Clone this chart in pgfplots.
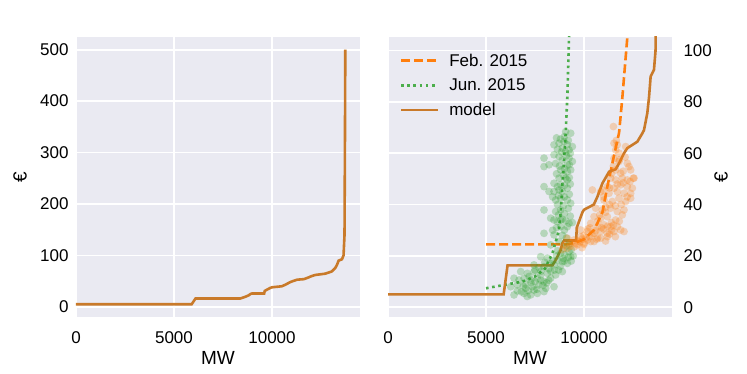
\documentclass[border=0pt]{standalone}
\usepackage{fontspec}
\setmainfont{Liberation Sans}
\usepackage{pgfplots}
\usepackage{pgfplotstable}
\pgfplotsset{compat=1.18}
\definecolor{bgc}{HTML}{EAEAF2}
\definecolor{modelc}{HTML}{C97A2A}
\definecolor{febc}{HTML}{FF7F0E}
\definecolor{junc}{HTML}{2CA02C}

% model supply curve
\pgfplotstableread{
mw eur
0 5
5900 5
6100 16.3
8390 16.3
8600 19
8810 22.3
8900 25
8980 26
9600 26
9630 31
9920 37
10000 38
10500 40
10680 43
10940 48.3
11280 52.8
11620 53.8
11790 56.1
12040 60
12210 62
12720 64.5
12980 67.8
13060 69
13230 75.6
13320 82
13400 89.9
13570 92.5
13650 100
13700 140
13720 300
13740 500
}\model

\pgfplotstableread{
mw eur
5000 24.5
9000 24.5
9500 25
10000 26.5
10500 30
10680 32.7
10940 37
11190 47
11530 59
11790 68
11960 82
12100 95
12220 106
}\feb

\pgfplotstableread{
mw eur
5000 7.4
6860 10
7500 12
8000 15
8390 21
8725 30
8810 37
8900 48
8980 57
9066 68
9150 82
9240 106
}\jun

\pgfplotstableread{
mw eur
9065 68.4
9320 67.8
8470 63.3
8725 63.9
8980 64.6
9150 63.3
9405 62.6
9235 61.3
8900 62
9050 60.5
7960 58.1
8215 55.5
7960 54.8
8470 59.4
8725 58.7
8895 57.4
9235 58.1
9405 56.8
9150 55.5
8810 53.5
9150 52.9
9320 53.5
8725 50.3
9065 50.3
9150 49.6
8470 48.3
8810 47.7
7960 47
8215 45.1
8470 45.1
8725 45.7
8895 45.1
9150 46.4
8555 41.8
8810 42.5
9150 41.8
9320 40.5
7960 37.9
8555 37.3
8810 37.9
8300 34.7
8470 34
8640 33.4
8810 34
8900 34.3
9065 33.7
9235 32.7
9405 33
8810 31.4
9150 31.4
8600 66
8800 65.5
9000 66.5
9200 65
8650 61.5
8850 60.5
9100 59
9300 60
8550 56
8750 55
9000 54
9250 55.5
8600 52
8950 51.5
9250 50.5
8650 47
9000 47.5
9300 48
8400 43
8700 43.5
9000 43
9250 44
8650 40
8950 39.5
9200 38.5
8700 36
9000 36.5
9300 35.5
8600 31
9000 30
8400 30
8900 28
9100 27
7960 28.8
8470 28.2
8725 25.6
8300 24.3
8980 23
9235 21.7
9320 19.7
9450 20
9350 18
7790 19.7
8130 19.1
8640 18.4
8895 17.8
7450 16.5
7960 15.8
8470 16.5
9150 17.1
6770 13.9
7110 13.2
7450 13.9
7790 12.6
8130 13.2
8555 12.6
8895 13.9
6430 11.3
6685 10.6
6940 11.3
7280 10.6
7620 11.3
7960 10
8300 11.3
6260 8
6600 8.7
7025 7.4
7365 8
7705 8.7
8045 7.4
8470 8
6430 4.8
6940 5.4
7280 4.8
7620 5.4
7960 6.1
7450 6.7
7200 12
7500 14.5
7800 14
8200 15
8600 20
8800 21
9000 20.5
7000 9
7300 9.5
6800 6
7100 4.2
8700 14.5
8400 18
9100 24
7500 10
7800 10.5
8100 9.5
8300 14
8500 14.5
8800 16
9000 18
7600 7
7900 8.5
8200 10.5
6900 8.2
7150 6.5
6600 6.4
8650 22
8950 19
9200 19.5
8300 17
7700 15.5
8000 17.5
9350 22.5
9250 24.5
}\junpts

\pgfplotstableread{
mw eur
11500 70.4
12126 62.6
11531 63.9
11700 63.3
11616 61.3
11786 60
11531 58
11786 56.8
12211 56.1
12296 54.8
12381 53.5
11616 53.5
11871 52.2
11361 50.3
11616 49.6
11956 50.3
12211 49.6
12551 50.3
11191 47
11531 46.4
11871 47.7
12211 47
12466 46.4
10426 45.7
10851 45
11276 44.4
11701 45
12041 44.4
12381 44.4
10938 45.7
11021 41.8
11446 41.2
11786 42.5
12126 41.2
12381 42.5
10596 38.6
10936 37.9
11361 38.6
11701 37.3
12041 37.9
10511 35.3
10851 34.7
11191 35.3
11616 34
11956 36
10341 32.7
10681 31.4
11021 32.1
11361 31.4
11701 31.4
11871 30.1
9831 30.1
10171 29.5
10511 28.8
10851 29.5
11191 28.8
11531 29.5
9151 26.9
9491 26.2
9831 27.5
10171 26.2
10511 25.6
10851 26.9
11191 27.5
8981 24.3
9321 25
9661 24.3
10001 25
10341 25.6
9150 23
8900 22.5
9500 23.5
12041 29.5
12520 50.3
10000 28
10300 27.5
10700 27
11000 30.5
11400 33
10700 33.5
9700 25.8
9900 26.5
11100 25.8
11400 30
11800 33.5
9300 23.8
9600 24.8
9800 25.5
10100 27
10400 28.5
10600 29.8
10900 31
11200 31.5
11500 32
10200 30.5
10800 36
11100 37
11300 40
11600 39.5
11900 40
12200 43
11000 43
11300 46.5
11700 48
12000 48.5
12350 49
11400 52
12000 53
11800 57.5
12100 58.5
11650 65
11500 55
11100 39
10300 31
10650 26.5
11300 28.5
11600 27.5
10000 24.5
9900 23.2
}\febpts

\pgfplotsset{sbstyle/.style={
  scale only axis, width=284pt, height=280pt,
  axis background/.style={fill=bgc},
  axis line style={draw=none},
  major tick length=0pt,
  grid=major, grid style={white, line width=1.6pt},
  xmin=0, xmax=14490,
  xtick={0,5000,10000},
  scaled x ticks=false,
  tick label style={font=\fontsize{17}{20}\selectfont},
  xticklabel style={yshift=-11pt},
  /pgf/number format/1000 sep={},
  /pgf/number format/assume math mode=true,
  xlabel={MW}, ylabel={€},
  xlabel style={font=\fontsize{19}{22}\selectfont, at={(rel axis cs:0.5,0)},
    anchor=center, yshift=-41pt},
}}

\begin{document}
\begin{tikzpicture}
\useasboundingbox (-76pt,-57pt) rectangle (671pt,317pt);

\begin{axis}[sbstyle, at={(0pt,0pt)}, anchor=south west,
  ymin=-19.75, ymax=524.75, ytick={0,100,...,500},
  yticklabel style={xshift=-4pt},
  ylabel style={font=\fontsize{19}{22}\selectfont,
    at={(rel axis cs:-0.197,0.5)}, anchor=center}]
\addplot[modelc, line width=2.6pt] table[x=mw, y=eur] {\model};
\end{axis}

\begin{axis}[sbstyle, at={(312pt,0pt)}, anchor=south west,
  ymin=-3.8, ymax=105.3, ytick={0,20,...,100},
  yticklabel pos=right,
  yticklabel style={xshift=8pt},
  ylabel style={font=\fontsize{19}{22}\selectfont,
    at={(rel axis cs:1.1725,0.5)}, anchor=center},
  legend cell align=left,
  legend style={at={(0.03,0.955)}, anchor=north west, draw=none, fill=none,
    font=\fontsize{17}{20}\selectfont, row sep=7pt,
    /tikz/every odd column/.append style={column sep=8pt}},
  legend image code/.code={\draw[#1] (0pt,0pt) -- (37pt,0pt);}]
\addplot[only marks, mark=*, mark size=3.9pt, color=junc, forget plot,
  mark options={draw opacity=0, fill opacity=0.28}] table[x=mw, y=eur] {\junpts};
\addplot[only marks, mark=*, mark size=3.9pt, color=febc, forget plot,
  mark options={draw opacity=0, fill opacity=0.28}] table[x=mw, y=eur] {\febpts};
\addplot[febc, line width=2.6pt, dash pattern=on 9pt off 4pt] table[x=mw, y=eur] {\feb};
\addplot[junc!85!white, line width=2.6pt, dash pattern=on 2.6pt off 3.6pt] table[x=mw, y=eur] {\jun};
\addplot[modelc, line width=2.6pt] table[x=mw, y=eur] {\model};
\legend{Feb. 2015, Jun. 2015, model}
\end{axis}
\end{tikzpicture}
\end{document}
